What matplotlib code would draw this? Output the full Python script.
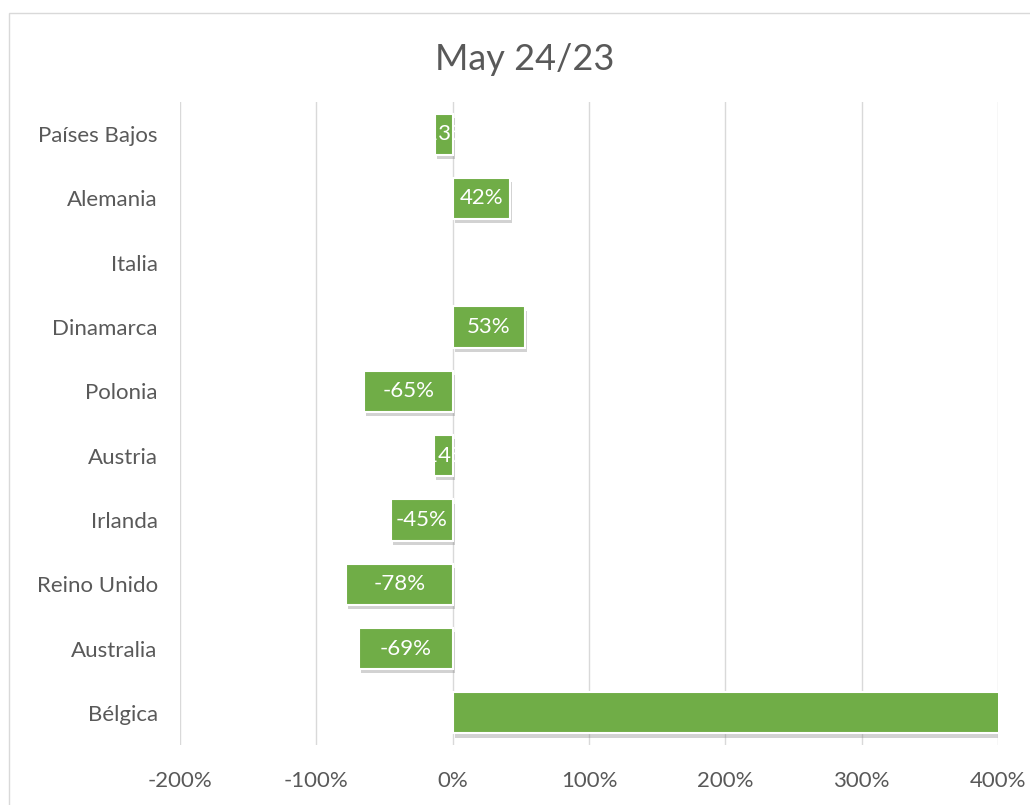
import matplotlib
matplotlib.use("Agg")
import matplotlib.pyplot as plt
import matplotlib.patheffects as pe
from matplotlib.patches import Rectangle

categories = ["Países Bajos", "Alemania", "Italia", "Dinamarca", "Polonia",
              "Austria", "Irlanda", "Reino Unido", "Australia", "Bélgica"]
values = [-13, 42, None, 53, -65, -14, -45, -78, -69, 520]
xticks = [-200, -100, 0, 100, 200, 300, 400]
xtick_labels = ["-200%", "-100%", "0%", "100%", "200%", "300%", "400%"]
title = "May 24/23"

plt.rcParams['font.family'] = ['Lato', 'DejaVu Sans']
text_color = "#595959"
bar_color = "#70ad47"
grid_color = "#d9d9d9"

fig = plt.figure(figsize=(10.3, 8.05), dpi=100)
fig.patches.append(Rectangle((9/1030, -0.1), 1.2, 1 - 13/805 + 0.1,
                             transform=fig.transFigure, fill=False,
                             edgecolor=grid_color, linewidth=1.0))
ax = fig.add_axes([180/1030, 1 - 745/805, (998 - 180)/1030, (745 - 102)/805])

n = len(categories)
ypos = list(range(n))
for y, v in zip(ypos, values):
    if v is None:
        continue
    bars = ax.barh(y, v, height=0.64, color=bar_color, clip_on=True,
                   edgecolor="white", linewidth=1.5, zorder=3)
    bars[0].set_path_effects([
        pe.SimplePatchShadow(offset=(1.5, -3), shadow_rgbFace="#7f7f7f", alpha=0.35),
        pe.Normal()])
    if abs(v) < 300:
        ax.text(v / 2, y, f"{v}%", ha="center", va="center", color="white",
                fontsize=16, zorder=4, clip_on=True)

ax.set_xlim(-200, 400)
ax.set_ylim(n - 0.5, -0.5)
ax.set_yticks(ypos)
ax.set_yticklabels(categories)
ax.set_xticks(xticks)
ax.set_xticklabels(xtick_labels)
ax.tick_params(axis="both", length=0, colors=text_color, labelsize=16)
ax.tick_params(axis="y", pad=16)
ax.tick_params(axis="x", pad=19)
ax.grid(axis="x", color=grid_color, linewidth=1.0, zorder=0)
ax.set_axisbelow(True)
for s in ax.spines.values():
    s.set_visible(False)

fig.text(525/1030, 1 - 60/805, title, ha="center", va="center",
         fontsize=26, color=text_color)

fig.savefig("out.png", dpi=100)
